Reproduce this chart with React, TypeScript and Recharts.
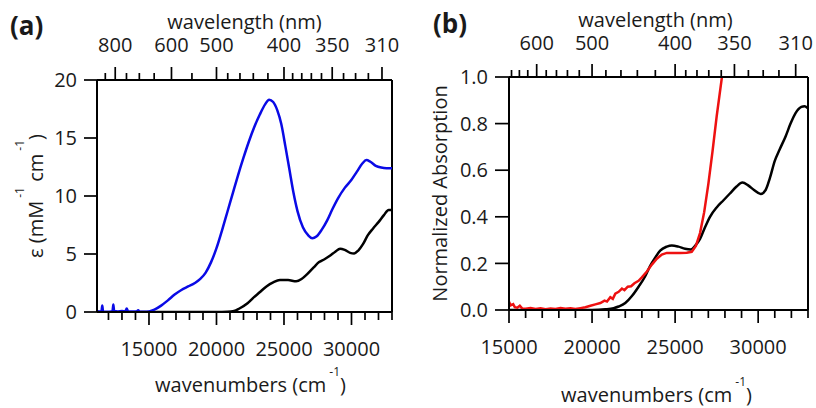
import { LineChart, Line, XAxis, YAxis, ReferenceLine } from "recharts";

// (a) molar absorptivity, mM^-1 cm^-1, against wavenumber (cm^-1)
const blueWn = [11150, 11350, 11480, 11540, 11600, 11900, 12200, 12300, 12360, 12420, 12700, 13000, 13250, 13350, 13450, 13800, 14100, 14200, 14300, 14700, 15000, 15400, 15900, 16400, 16900, 17400, 17900, 18400, 18800, 19200, 19600, 20000, 20400, 20800, 21200, 21600, 22000, 22400, 22800, 23200, 23600, 23900, 24200, 24500, 24800, 25100, 25400, 25700, 26000, 26400, 26800, 27100, 27400, 27800, 28200, 28600, 29000, 29500, 30000, 30400, 30800, 31100, 31400, 31800, 32200, 32600, 33000];
const blueEps = [0.1, 0.05, 0.05, 0.55, 0.05, 0.03, 0.05, 0.08, 0.65, 0.08, 0.05, 0.08, 0.05, 0.3, 0.05, 0.04, 0.05, 0.15, 0.03, 0.02, 0.05, 0.2, 0.55, 1.0, 1.5, 1.9, 2.2, 2.5, 2.85, 3.4, 4.3, 5.5, 7.0, 8.6, 10.2, 11.8, 13.3, 14.7, 15.95, 17.0, 17.9, 18.3, 18.1, 17.4, 16.2, 14.3, 12.3, 10.3, 8.7, 7.3, 6.6, 6.35, 6.5, 7.1, 7.9, 8.9, 9.8, 10.7, 11.4, 12.1, 12.8, 13.1, 12.95, 12.6, 12.45, 12.4, 12.4];

const blackWnA = [14000, 20000, 20800, 21300, 21700, 22300, 22700, 23200, 23700, 24200, 24700, 25300, 25900, 26300, 26700, 27200, 27600, 28000, 28400, 28800, 29150, 29500, 29900, 30200, 30500, 30850, 31200, 31600, 32000, 32400, 32750, 33000];
const blackEpsA = [0, 0, 0.02, 0.08, 0.3, 0.75, 1.2, 1.7, 2.2, 2.55, 2.75, 2.75, 2.65, 2.85, 3.25, 3.85, 4.3, 4.55, 4.85, 5.2, 5.45, 5.35, 5.1, 5.05, 5.3, 5.85, 6.6, 7.2, 7.75, 8.35, 8.8, 8.8];

// (b) normalized absorption
const blackWnB = [15000, 20000, 20800, 21300, 21600, 22000, 22400, 22800, 23200, 23500, 23800, 24100, 24500, 24800, 25200, 25600, 25950, 26200, 26500, 26800, 27100, 27500, 27900, 28300, 28700, 29050, 29400, 29750, 30150, 30450, 30700, 31000, 31300, 31650, 31950, 32250, 32600, 32800, 33000];
const blackAbsB = [0, 0, 0.003, 0.008, 0.015, 0.03, 0.06, 0.1, 0.145, 0.19, 0.225, 0.255, 0.272, 0.277, 0.272, 0.263, 0.26, 0.275, 0.305, 0.355, 0.4, 0.44, 0.47, 0.5, 0.53, 0.547, 0.535, 0.515, 0.498, 0.515, 0.565, 0.64, 0.69, 0.745, 0.8, 0.845, 0.872, 0.875, 0.865];

const redWn = [15000, 15100, 15250, 15350, 15500, 15650, 15800, 16000, 16300, 16600, 16900, 17200, 17500, 17800, 18100, 18400, 18700, 19000, 19300, 19600, 19900, 20200, 20500, 20750, 20900, 21100, 21250, 21400, 21600, 21800, 21950, 22150, 22350, 22550, 22800, 23000, 23300, 23600, 23900, 24200, 24500, 24900, 25300, 25700, 26000, 26250, 26500, 26750, 27000, 27250, 27500, 27800, 28000];
const redAbs = [0.035, 0.02, 0.025, 0.012, 0.01, 0.018, 0.006, 0.005, 0.008, 0.004, 0.007, 0.003, 0.006, 0.004, 0.008, 0.005, 0.007, 0.004, 0.008, 0.012, 0.018, 0.024, 0.03, 0.04, 0.036, 0.055, 0.048, 0.07, 0.078, 0.092, 0.085, 0.1, 0.102, 0.115, 0.125, 0.14, 0.165, 0.195, 0.22, 0.238, 0.245, 0.245, 0.245, 0.246, 0.25, 0.275, 0.33, 0.42, 0.54, 0.68, 0.83, 0.99, 1.08];

// axis ticks
const epsTicks = [0, 5, 10, 15, 20];
const absTicks = [0, 0.2, 0.4, 0.6, 0.8, 1.0];
const wnMajor = [15000, 20000, 25000, 30000];
const wnTicksA = [12000, 13000, 14000, 15000, 16000, 17000, 18000, 19000, 20000, 21000, 22000, 23000, 24000, 25000, 26000, 27000, 28000, 29000, 30000, 31000, 32000, 33000];
const wnTicksB = [15000, 16000, 17000, 18000, 19000, 20000, 21000, 22000, 23000, 24000, 25000, 26000, 27000, 28000, 29000, 30000, 31000, 32000, 33000];
const nmMajorA = [800, 600, 500, 400, 350, 310];
const nmMinorA = [850, 750, 700, 650, 550, 480, 460, 440, 420, 390, 380, 370, 360, 340, 330, 320];
const nmMajorB = [600, 500, 400, 350, 310];
const nmMinorB = [660, 640, 620, 580, 560, 540, 520, 480, 460, 440, 420, 390, 380, 370, 360, 340, 330, 320];

const FONT = "'Open Sans', sans-serif";
const TEXT = "#1a1a1a";

const toPoints = (xs: number[], ys: number[]) => xs.map((w, i) => ({ w, v: ys[i] }));
const nmToWn = (nm: number) => 1e7 / nm;

const BottomTick = ({ x, y, payload }: any) => {
  const major = wnMajor.includes(payload.value);
  return (
    <g>
      <line x1={x} x2={x} y1={y} y2={y + (major ? 13 : 8)} stroke="#000" strokeWidth={1.7} />
      {major && (
        <text x={x} y={y + 44} textAnchor="middle" fontSize={20} fill={TEXT} fontFamily={FONT}>
          {payload.value}
        </text>
      )}
    </g>
  );
};

const TopTick = ({ x, y, payload, majors, labelGap }: any) => {
  const nm = Math.round(1e7 / payload.value);
  const major = majors.includes(nm);
  return (
    <g>
      <line x1={x} x2={x} y1={y} y2={y - (major ? 13 : 7)} stroke="#000" strokeWidth={1.7} />
      {major && (
        <text x={x} y={y - labelGap} textAnchor="middle" fontSize={20} fill={TEXT} fontFamily={FONT}>
          {nm}
        </text>
      )}
    </g>
  );
};

const TopTitle = ({ viewBox, dx, baseline }: any) => (
  <text x={viewBox.x + viewBox.width / 2 + dx} y={baseline} textAnchor="middle" fontSize={20} fill={TEXT} fontFamily={FONT}>
    wavelength (nm)
  </text>
);

const BottomTitle = ({ viewBox, dx, dy }: any) => (
  <text x={viewBox.x + viewBox.width / 2 + dx} y={viewBox.y + dy} textAnchor="middle" fontSize={20} fill={TEXT} fontFamily={FONT}>
    wavenumbers (cm<tspan dx={3} dy={-16} fontSize={12}>-1</tspan>
    <tspan dy={16}>)</tspan>
  </text>
);

const EpsTitle = ({ viewBox, bx }: any) => (
  <text
    transform={`translate(${bx},${viewBox.y + viewBox.height / 2}) rotate(-90)`}
    textAnchor="middle"
    fontSize={20}
    fill={TEXT}
    fontFamily={FONT}
  >
    ε (mM<tspan dx={3} dy={-19} fontSize={12}>-1</tspan>
    <tspan dy={19}> cm</tspan>
    <tspan dx={3} dy={-19} fontSize={12}>-1</tspan>
    <tspan dy={19}>)</tspan>
  </text>
);

const AbsTitle = ({ viewBox, bx }: any) => (
  <text
    transform={`translate(${bx},${viewBox.y + viewBox.height / 2}) rotate(-90)`}
    textAnchor="middle"
    fontSize={20}
    fill={TEXT}
    fontFamily={FONT}
  >
    Normalized Absorption
  </text>
);

const axisLine = { stroke: "#000", strokeWidth: 2 };
const yTickLine = { stroke: "#000", strokeWidth: 1.7 };

const PanelA = () => (
  <LineChart width={410} height={408} margin={{ top: 0, right: 18, bottom: 0, left: 0 }}>
    <XAxis
      xAxisId="bottom"
      type="number"
      dataKey="w"
      domain={[11150, 33000]}
      allowDataOverflow
      ticks={wnTicksA}
      interval={0}
      height={96}
      tickSize={0}
      tickMargin={0}
      tickLine={false}
      axisLine={axisLine}
      tick={<BottomTick />}
      label={<BottomTitle dx={6} dy={80} />}
    />
    <XAxis
      xAxisId="top"
      orientation="top"
      type="number"
      dataKey="w"
      domain={[11150, 33000]}
      allowDataOverflow
      ticks={[...nmMajorA, ...nmMinorA].map(nmToWn)}
      interval={0}
      height={80}
      tickSize={0}
      tickMargin={0}
      tickLine={false}
      axisLine={axisLine}
      tick={<TopTick majors={nmMajorA} labelGap={28} />}
      label={<TopTitle dx={0} baseline={29} />}
    />
    <YAxis
      type="number"
      domain={[0, 20]}
      allowDataOverflow
      ticks={epsTicks}
      interval={0}
      width={97}
      tickSize={13}
      tickMargin={7}
      axisLine={axisLine}
      tickLine={yTickLine}
      tick={{ fontSize: 20, fill: TEXT, fontFamily: FONT }}
      label={<EpsTitle bx={43} />}
    />
    <ReferenceLine xAxisId="bottom" x={33000} stroke="#000" strokeWidth={2} />
    <Line xAxisId="bottom" data={toPoints(blackWnA, blackEpsA)} dataKey="v" type="monotone" stroke="#000" strokeWidth={2.5} dot={false} isAnimationActive={false} />
    <Line xAxisId="bottom" data={toPoints(blueWn, blueEps)} dataKey="v" type="monotone" stroke="#0a0ae6" strokeWidth={2.5} dot={false} isAnimationActive={false} />
  </LineChart>
);

const PanelB = () => (
  <LineChart width={406} height={408} margin={{ top: 0, right: 8, bottom: 0, left: 0 }}>
    <XAxis
      xAxisId="bottom"
      type="number"
      dataKey="w"
      domain={[15000, 33000]}
      allowDataOverflow
      ticks={wnTicksB}
      interval={0}
      height={98}
      tickSize={0}
      tickMargin={0}
      tickLine={false}
      axisLine={axisLine}
      tick={<BottomTick />}
      label={<BottomTitle dx={-2} dy={92} />}
    />
    <XAxis
      xAxisId="top"
      orientation="top"
      type="number"
      dataKey="w"
      domain={[15000, 33000]}
      allowDataOverflow
      ticks={[...nmMajorB, ...nmMinorB].map(nmToWn)}
      interval={0}
      height={77}
      tickSize={0}
      tickMargin={0}
      tickLine={false}
      axisLine={axisLine}
      tick={<TopTick majors={nmMajorB} labelGap={27} />}
      label={<TopTitle dx={-3} baseline={27} />}
    />
    <YAxis
      type="number"
      domain={[0, 1]}
      allowDataOverflow
      ticks={absTicks}
      interval={0}
      width={99}
      tickSize={14}
      tickMargin={7}
      axisLine={axisLine}
      tickLine={yTickLine}
      tickFormatter={(v: number) => v.toFixed(1)}
      tick={{ fontSize: 20, fill: TEXT, fontFamily: FONT }}
      label={<AbsTitle bx={37} />}
    />
    <ReferenceLine xAxisId="bottom" x={33000} stroke="#000" strokeWidth={2} />
    <Line xAxisId="bottom" data={toPoints(blackWnB, blackAbsB)} dataKey="v" type="monotone" stroke="#000" strokeWidth={2.5} dot={false} isAnimationActive={false} />
    <Line xAxisId="bottom" data={toPoints(redWn, redAbs)} dataKey="v" type="linear" stroke="#ee1111" strokeWidth={2.5} dot={false} isAnimationActive={false} />
  </LineChart>
);

export default function App() {
  return (
    <div style={{ position: "absolute", left: 0, top: 0, width: 816, height: 408, background: "#fff", fontFamily: FONT }}>
      <div style={{ position: "absolute", left: 0, top: 0 }}>
        <PanelA />
      </div>
      <div style={{ position: "absolute", left: 410, top: 0 }}>
        <PanelB />
      </div>
      <div style={{ position: "absolute", left: 10, top: 8, fontSize: 26, fontWeight: 700, color: TEXT, lineHeight: "34px" }}>(a)</div>
      <div style={{ position: "absolute", left: 433, top: 6, fontSize: 26, fontWeight: 700, color: TEXT, lineHeight: "34px" }}>(b)</div>
    </div>
  );
}
